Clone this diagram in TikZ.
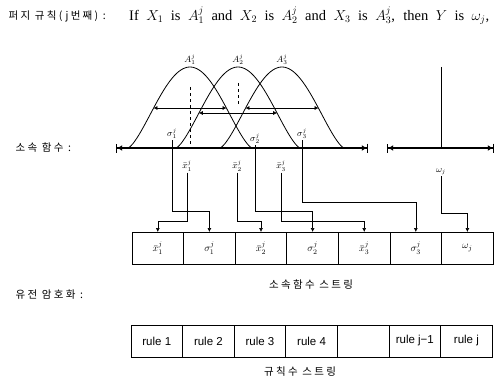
\documentclass[tikz,border=0pt]{standalone}
\usepackage{fontspec}
\setmainfont{Liberation Serif}
\setsansfont{Liberation Sans}
\newfontfamily\kor[LetterSpace=22]{Noto Sans CJK KR}
\usetikzlibrary{positioning, arrows.meta}

\begin{document}
\begin{tikzpicture}[x=1pt, y=-1pt,
  cell/.style={rectangle, draw, thick, minimum width=51.6pt, minimum height=32pt, inner sep=0pt, outer sep=0pt, font=\normalsize},
  rulecell/.style={cell, font=\sffamily\fontsize{11.5}{13}\selectfont},
  axisline/.style={very thick, {Bar[width=9pt]Latex[length=5pt,width=6pt]}-{Latex[length=5pt,width=6pt]Bar[width=9pt]}},
  mf/.style={thick},
  widtharrow/.style={semithick, {Latex[length=4pt,width=4pt]}-{Latex[length=4pt,width=4pt]}},
  conn/.style={semithick, -{Latex[length=4pt,width=4pt]}},
  lbl/.style={font=\small, inner sep=1pt},
  klabel/.style={font=\kor\fontsize{10.5}{12}\selectfont, anchor=west}
]
  \useasboundingbox (0,0) rectangle (494,385);

  % fuzzy rule
  \node[klabel] (titleko) at (5,16) {퍼지 규칙(j번째) :};
  \node[anchor=west, inner sep=0pt, font=\fontsize{14.5}{17}\selectfont] (rulefml) at (129,16)
    {\makebox[360pt][s]{If $X_1$ is $A_1^j$ and $X_2$ is $A_2^j$ and $X_3$ is $A_3^j$, then $Y$ is $\omega_j$,}};

  % membership functions
  \node[klabel] (mflabel) at (12,148) {소속 함수 :};
  \coordinate (ax1l) at (116,148);
  \coordinate (ax1r) at (368,148);
  \draw[axisline] (ax1l) -- (ax1r);
  \draw[mf] plot[domain=-61.5:61.5, samples=60] ({190+\x}, {148-81*abs(cos(\x*90/62))^1.4});
  \draw[mf] plot[domain=-61.5:61.5, samples=60] ({238+\x}, {148-81*abs(cos(\x*90/62))^1.4});
  \draw[mf] plot[domain=-61.5:61.5, samples=60] ({282+\x}, {148-81*abs(cos(\x*90/62))^1.4});
  \node[lbl, anchor=south] (a1) at (190,66) {$A_1^j$};
  \node[lbl, anchor=south] (a2) at (238,66) {$A_2^j$};
  \node[lbl, anchor=south] (a3) at (282,66) {$A_3^j$};
  \draw[dashed] (190,87) -- (190,148);
  \draw[dashed] (238,83) -- (238,104);
  \draw[widtharrow] (153.4,108) -- (226.6,108);
  \draw[widtharrow] (198.8,113) -- (277.2,113);
  \draw[widtharrow] (245.4,108) -- (318.6,108);

  \node[lbl, anchor=south] (s1) at (172,140) {$\sigma_1^j$};
  \node[lbl, anchor=south] (s2) at (255,145) {$\sigma_2^j$};
  \node[lbl, anchor=south] (s3) at (302,140) {$\sigma_3^j$};
  \node[lbl] (xb1) at (187,166) {$\bar{x}_1^j$};
  \node[lbl] (xb2) at (237,166) {$\bar{x}_2^j$};
  \node[lbl] (xb3) at (281,166) {$\bar{x}_3^j$};

  % consequent
  \coordinate (ax2l) at (387,148);
  \coordinate (ax2r) at (494,148);
  \draw[axisline] (ax2l) -- (ax2r);
  \draw[thick] (441,67) -- (441,148);
  \node[lbl] (om) at (441,172) {$\omega_j$};

  % genetic coding
  \node[klabel] (gclabel) at (12,295) {유전 암호화 :};
  \node[cell] (c1) at (157.8,248) {$\bar{x}_1^j$};
  \node[cell, right=0pt of c1] (c2) {$\sigma_1^j$};
  \node[cell, right=0pt of c2] (c3) {$\bar{x}_2^j$};
  \node[cell, right=0pt of c3] (c4) {$\sigma_2^j$};
  \node[cell, right=0pt of c4] (c5) {$\bar{x}_3^j$};
  \node[cell, right=0pt of c5] (c6) {$\sigma_3^j$};
  \node[cell, right=0pt of c6] (c7) {$\omega_j$};
  \node[klabel, anchor=center] (mfstr) at (311,285) {소속함수 스트링};

  \node[rulecell] (r1) at (156.8,341) {rule 1};
  \node[rulecell, right=0pt of r1] (r2) {rule 2};
  \node[rulecell, right=0pt of r2] (r3) {rule 3};
  \node[rulecell, right=0pt of r3] (r4) {rule 4};
  \node[rulecell, right=0pt of r4] (r5) {};
  \node[rulecell, right=0pt of r5] (r6) {rule j−1};
  \node[rulecell, right=0pt of r6] (r7) {rule j};
  \node[klabel, anchor=center] (rulestr) at (300,372) {규칙수 스트링};

  % connectors to the string
  \draw[conn] (xb1.south) -- (xb1.south |- 0,221) -- (c1.north |- 0,221) -- (c1.north);
  \draw[conn] (s1.south) -- (s1.south |- 0,211) -- (c2.north |- 0,211) -- (c2.north);
  \draw[conn] (xb2.south) -- (xb2.south |- 0,221) -- (c3.north |- 0,221) -- (c3.north);
  \draw[conn] (s2.south) -- (s2.south |- 0,211) -- (c4.north |- 0,211) -- (c4.north);
  \draw[conn] (xb3.south) -- (xb3.south |- 0,221) -- (c5.north |- 0,221) -- (c5.north);
  \draw[conn] (s3.south) -- (s3.south |- 0,202) -- (c6.north |- 0,202) -- (c6.north);
  \draw[conn] (om.south) -- (om.south |- 0,213) -- (c7.north |- 0,213) -- (c7.north);
\end{tikzpicture}
\end{document}
